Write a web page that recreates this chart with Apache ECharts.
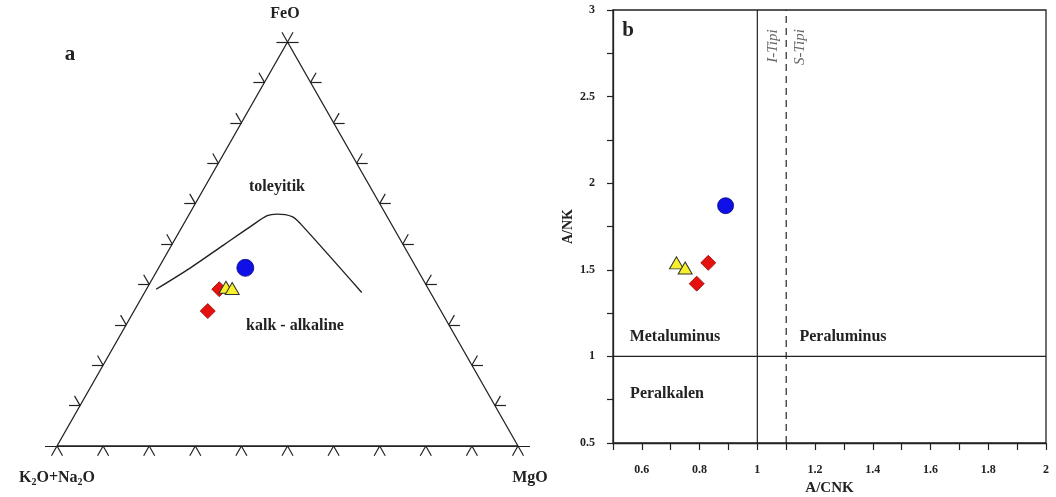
<!DOCTYPE html>
<html>
<head>
<meta charset="UTF-8">
<title>AFM - A/CNK-A/NK</title>
<script src="https://cdn.jsdelivr.net/npm/echarts@6/dist/echarts.min.js"></script>
<style>
html, body { margin: 0; padding: 0; background: #fff; }
#chart { width: 1056px; height: 497px; }
</style>
</head>
<body>
<div id="chart"></div>
<script type="text/javascript">
// a) AFM ucgen: [K2O+Na2O, FeO, MgO] (%)
var afmBlue = [[37.1, 44.1, 18.8]];
var afmRed = [[45.4, 38.8, 15.8], [50.6, 33.4, 16.0]];
var afmYellow = [[43.7, 39.3, 17.0], [42.5, 39.0, 18.5]];
// toleyitik / kalk-alkaline siniri
var afmBoundary = [
  [59.1, 38.8, 2.1], [49.0, 44.1, 6.9], [38.9, 49.8, 11.3], [30.9, 54.3, 14.8],
  [25.9, 57.0, 17.1], [23.6, 57.4, 19.0], [20.6, 56.8, 22.6], [19.7, 55.1, 25.2],
  [14.9, 38.0, 47.1]
];
var ternaryTicks = [0, 10, 20, 30, 40, 50, 60, 70, 80, 90, 100];

// b) A/CNK - A/NK: [A/CNK, A/NK]
var shandBlue = [[0.89, 1.87]];
var shandRed = [[0.83, 1.54], [0.79, 1.42]];
var shandYellow = [[0.72, 1.54], [0.75, 1.51]];
var metaluminousLimit = 1.0;   // A/CNK
var iTypeLimit = 1.1;          // A/CNK, I / S tipi
var peralkalineLimit = 1.0;    // A/NK

var serif = '"Liberation Serif", "DejaVu Serif", serif';
var ink = '#222';

// ucgen koordinati -> kartezyen (taban 0..1, yukseklik 0..1)
function tp(a, f, m) {
  return [m + f / 2, f];
}
function tern(p) {
  var s = p[0] + p[1] + p[2];
  return tp(p[0] / s, p[1] / s, p[2] / s);
}

var d = 0.024, e = 0.026;
var tickSegs = [];
ternaryTicks.forEach(function (v) {
  var t = v / 100;
  // taban (FeO = 0)
  tickSegs.push({ coords: [tp(1 - t, 0, t), tp(1 - t + d, -d, t)] });
  tickSegs.push({ coords: [tp(1 - t, 0, t), tp(1 - t, -d, t + d)] });
  if (t > 0) {
    // sol kenar (MgO = 0)
    tickSegs.push({ coords: [tp(1 - t, t, 0), tp(1 - t + d, t, -d)] });
    tickSegs.push({ coords: [tp(1 - t, t, 0), tp(1 - t, t + d, -d)] });
    // sag kenar (K2O+Na2O = 0)
    tickSegs.push({ coords: [tp(0, t, 1 - t), tp(-d, t, 1 - t + d)] });
    tickSegs.push({ coords: [tp(0, t, 1 - t), tp(-d, t + d, 1 - t)] });
  }
});
tickSegs.push({ coords: [tp(1 + e, 0, -e), tp(-e, 0, 1 + e)] });

var outline = [{ coords: [tp(1, 0, 0), tp(0, 1, 0), tp(0, 0, 1), tp(1, 0, 0)] }];

function label(text, x, y, size, extra) {
  var st = {
    text: text, x: 0, y: 0, fill: ink, fontFamily: serif, fontWeight: 'bold',
    fontSize: size, align: 'center', verticalAlign: 'middle'
  };
  var el = { type: 'text', x: x, y: y, style: st, z: 100 };
  if (extra) {
    for (var k in extra) st[k] = extra[k];
  }
  return el;
}

var blueStyle = { color: '#0f0fe8', borderColor: '#08087a', borderWidth: 0.8, opacity: 1 };
var redStyle = { color: '#e6100f', borderColor: '#900808', borderWidth: 0.8, opacity: 1 };
var yellowStyle = { color: '#f7f02a', borderColor: '#333', borderWidth: 1, opacity: 1 };

var refLine = { color: ink, width: 1.2 };

var option = {
  animation: false,
  backgroundColor: '#fff',
  grid: [
    { left: 57, top: 42, width: 461, height: 404, outerBoundsMode: 'none' },
    {
      left: 613, top: 10, width: 433, height: 433, outerBoundsMode: 'none',
      show: true, borderColor: ink, borderWidth: 1.3
    }
  ],
  xAxis: [
    { gridIndex: 0, type: 'value', min: 0, max: 1, show: false },
    {
      gridIndex: 1, type: 'value', min: 0.5, max: 2, interval: 0.1,
      axisLine: { lineStyle: { color: ink, width: 1.3 } },
      axisTick: { length: 7, lineStyle: { color: ink, width: 1.2 } },
      splitLine: { show: false },
      axisLabel: {
        margin: 21, color: ink, fontFamily: serif, fontWeight: 'bold', fontSize: 12,
        formatter: function (v) {
          var k = Math.round(v * 10);
          return k % 2 === 0 ? String(k / 10) : '';
        }
      },
      name: 'A/CNK', nameLocation: 'middle', nameGap: 37,
      nameTextStyle: { color: ink, fontFamily: serif, fontWeight: 'bold', fontSize: 15 }
    }
  ],
  yAxis: [
    { gridIndex: 0, type: 'value', min: 0, max: 1, show: false },
    {
      gridIndex: 1, type: 'value', min: 0.5, max: 3, interval: 0.25,
      axisLine: { lineStyle: { color: ink, width: 1.3 } },
      axisTick: { length: 6, lineStyle: { color: ink, width: 1.2 } },
      splitLine: { show: false },
      axisLabel: {
        margin: 18, color: ink, fontFamily: serif, fontWeight: 'bold', fontSize: 12,
        formatter: function (v) {
          var k = Math.round(v * 4);
          return k % 2 === 0 ? String(k / 4) : '';
        }
      },
      name: 'A/NK', nameLocation: 'middle', nameGap: 38, nameRotate: 90,
      nameTextStyle: { color: ink, fontFamily: serif, fontWeight: 'bold', fontSize: 14 }
    }
  ],
  series: [
    {
      type: 'lines', coordinateSystem: 'cartesian2d', xAxisIndex: 0, yAxisIndex: 0,
      polyline: true, data: outline, silent: true, clip: false,
      lineStyle: { color: ink, width: 1.3, opacity: 1 }
    },
    {
      type: 'lines', coordinateSystem: 'cartesian2d', xAxisIndex: 0, yAxisIndex: 0,
      data: tickSegs, silent: true, clip: false,
      lineStyle: { color: ink, width: 1.2, opacity: 1 }
    },
    {
      type: 'line', xAxisIndex: 0, yAxisIndex: 0, smooth: 0.3, showSymbol: false,
      data: afmBoundary.map(tern), lineStyle: { color: ink, width: 1.4 }
    },
    {
      type: 'scatter', xAxisIndex: 0, yAxisIndex: 0, symbol: 'circle', symbolSize: 17,
      data: afmBlue.map(tern), itemStyle: blueStyle
    },
    {
      type: 'scatter', xAxisIndex: 0, yAxisIndex: 0, symbol: 'diamond', symbolSize: 15,
      data: afmRed.map(tern), itemStyle: redStyle
    },
    {
      type: 'scatter', xAxisIndex: 0, yAxisIndex: 0, symbol: 'triangle', symbolSize: [14, 12],
      data: afmYellow.map(tern), itemStyle: yellowStyle
    },
    {
      type: 'line', xAxisIndex: 1, yAxisIndex: 1, showSymbol: false, silent: true,
      data: [[0.5, peralkalineLimit], [2, peralkalineLimit]], lineStyle: refLine
    },
    {
      type: 'line', xAxisIndex: 1, yAxisIndex: 1, showSymbol: false, silent: true,
      data: [[metaluminousLimit, 0.5], [metaluminousLimit, 3]], lineStyle: refLine
    },
    {
      type: 'line', xAxisIndex: 1, yAxisIndex: 1, showSymbol: false, silent: true,
      data: [[iTypeLimit, 0.5], [iTypeLimit, 3]],
      lineStyle: { color: ink, width: 1.2, type: [7, 5] }
    },
    {
      type: 'scatter', xAxisIndex: 1, yAxisIndex: 1, symbol: 'circle', symbolSize: 16,
      data: shandBlue, itemStyle: blueStyle
    },
    {
      type: 'scatter', xAxisIndex: 1, yAxisIndex: 1, symbol: 'diamond', symbolSize: 15,
      data: shandRed, itemStyle: redStyle
    },
    {
      type: 'scatter', xAxisIndex: 1, yAxisIndex: 1, symbol: 'triangle', symbolSize: [14, 12],
      data: shandYellow, itemStyle: yellowStyle
    }
  ],
  graphic: [
    label('FeO', 285, 14, 16),
    label('a', 70, 55, 21),
    label('toleyitik', 277, 187, 16),
    label('kalk - alkaline', 295, 326, 16),
    label('MgO', 530, 478, 16),
    {
      type: 'text', x: 57, y: 478, z: 100,
      style: {
        text: '{n|K}{s|2}{n|O+Na}{s|2}{n|O}', align: 'center', verticalAlign: 'middle',
        rich: {
          n: { fontFamily: serif, fontWeight: 'bold', fontSize: 16, fill: ink, color: ink },
          s: { fontFamily: serif, fontWeight: 'bold', fontSize: 10, fill: ink, color: ink, padding: [8, 0, 0, 0] }
        }
      }
    },
    label('b', 628, 31, 21),
    label('Metaluminus', 675, 337, 16),
    label('Peraluminus', 843, 337, 16),
    label('Peralkalen', 667, 394, 16),
    {
      type: 'text', x: 773, y: 46, rotation: Math.PI / 2, z: 100,
      style: { text: 'I-Tipi', fill: '#666', fontFamily: serif, fontStyle: 'italic', fontSize: 15, align: 'center', verticalAlign: 'middle' }
    },
    {
      type: 'text', x: 800, y: 47, rotation: Math.PI / 2, z: 100,
      style: { text: 'S-Tipi', fill: '#666', fontFamily: serif, fontStyle: 'italic', fontSize: 15, align: 'center', verticalAlign: 'middle' }
    }
  ]
};

var myChart = echarts.init(document.getElementById('chart'));
myChart.setOption(option);
</script>
</body>
</html>
